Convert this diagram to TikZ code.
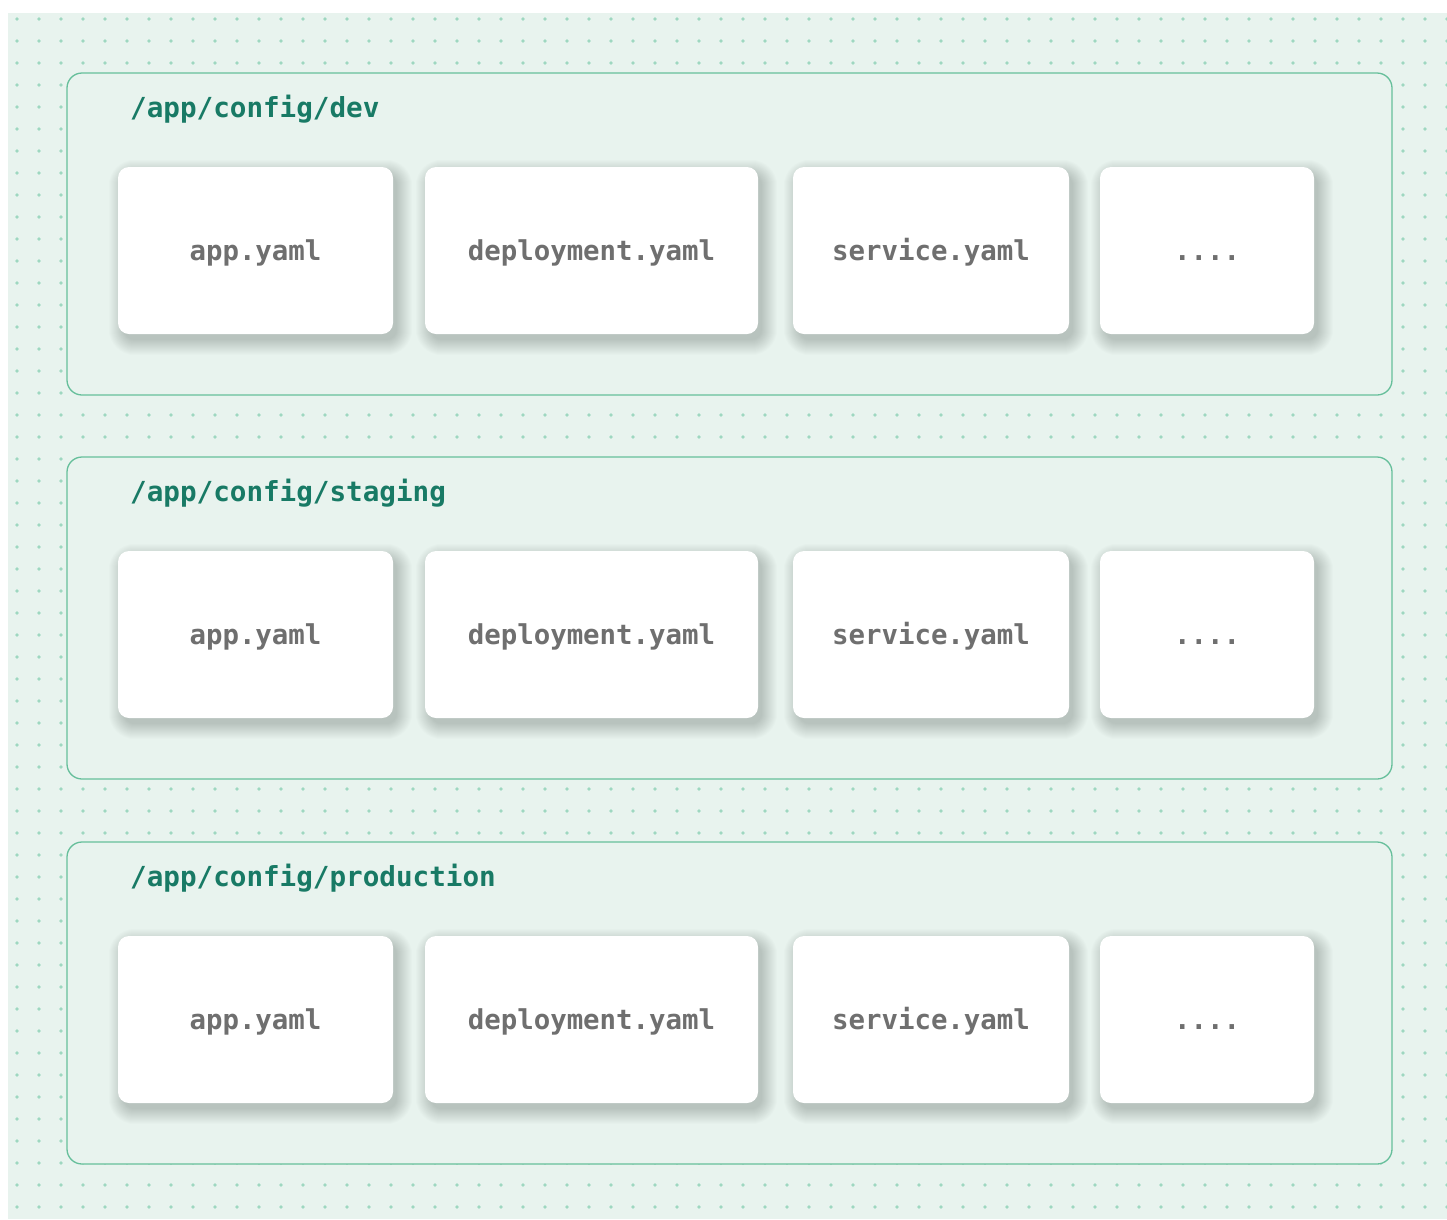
\documentclass[tikz,border=0pt]{standalone}
\usepackage{fontspec}
\newfontfamily\plexmono{DejaVu Sans Mono}
\usetikzlibrary{calc}
\definecolor{bgc}{HTML}{E8F3EE}
\definecolor{dotc}{HTML}{9ED7C0}
\definecolor{panelc}{HTML}{66BF9B}
\definecolor{titlec}{HTML}{187A65}
\definecolor{textc}{HTML}{6F6F6F}
\pgfdeclarelayer{back}
\pgfdeclarelayer{shade}
\pgfsetlayers{back,shade,main}
\tikzset{
  panel/.style={draw=panelc, line width=1.3pt, fill=bgc, rounded corners=15pt, inner sep=0pt,
    minimum width=1325pt, minimum height=322pt},
  card/.style={fill=white, rounded corners=11pt, inner sep=0pt, minimum height=167pt,
    text height=19pt, text depth=0pt, text=textc,
    font=\plexmono\bfseries\fontsize{27.4}{30}\selectfont},
  title/.style={anchor=base west, inner sep=0pt, text=titlec,
    font=\plexmono\bfseries\fontsize{27.6}{30}\selectfont},
  shadelayer/.style={fill=black, opacity=0.011},
}
\newcommand{\softshade}[1]{%
  \begin{pgfonlayer}{shade}
  \foreach \k in {0,...,15}{
    \fill[shadelayer, rounded corners=11pt+\k pt]
      ($(#1.north west)+(6-\k, 8-\k)$) rectangle ($(#1.south east)+(4+\k, 6+\k)$);
  }
  \end{pgfonlayer}}
\begin{document}
\begin{tikzpicture}[x=1pt,y=-1pt]
\useasboundingbox (0,0) rectangle (1447,1219);
\begin{pgfonlayer}{back}
\fill[white] (0,0) rectangle (1447,1219);
\fill[bgc] (8,13) rectangle (1447,1219);
\foreach \i in {0,...,65}{
  \foreach \j in {0,...,54}{
    \fill[dotc] (17+22*\i, 19+22*\j) circle (1.8pt);
  }
}
\end{pgfonlayer}
\foreach \r/\top/\name in {0/73/dev, 1/457/staging, 2/842/production}{
  \begin{pgfonlayer}{back}
  \node[panel] (p\r) at (729.5, \top+161) {};
  \end{pgfonlayer}
  \node[title] (t\r) at (130, \top+44) {/app/config/\name};
  \node[card, minimum width=275pt] (a\r) at (255.5, \top+177.5) {app.yaml};
  \node[card, minimum width=333pt] (b\r) at (591.5, \top+177.5) {deployment.yaml};
  \node[card, minimum width=276pt] (c\r) at (931, \top+177.5) {service.yaml};
  \node[card, minimum width=214pt] (e\r) at (1207, \top+177.5) {....};
  \softshade{a\r}
  \softshade{b\r}
  \softshade{c\r}
  \softshade{e\r}
}
\end{tikzpicture}
\end{document}
